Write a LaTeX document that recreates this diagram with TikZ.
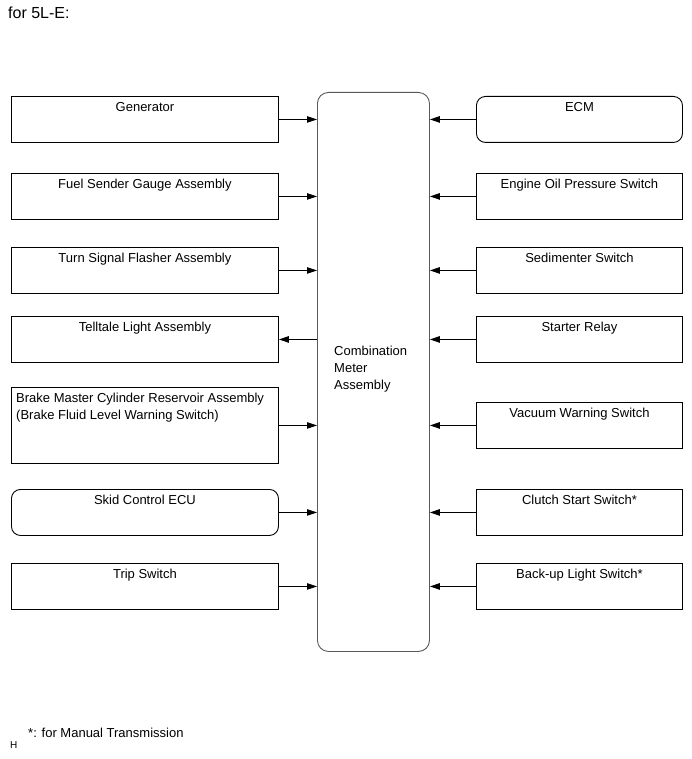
\documentclass[tikz,border=0pt]{standalone}
\usepackage{fontspec}
\setmainfont{Liberation Sans}
\usetikzlibrary{arrows.meta}
\begin{document}
\begin{tikzpicture}[x=1pt,y=-1pt,font=\fontsize{13}{17}\selectfont,
  blk/.style={draw,line width=0.9pt,anchor=north west,inner sep=0pt},
  lbox/.style={blk,minimum width=267pt,minimum height=46pt},
  rbox/.style={blk,minimum width=206pt,minimum height=46pt},
  ttl/.style={label={[anchor=base,yshift=-15.5pt,inner sep=0pt]north:#1}},
  arr/.style={line width=0.8pt,-{Triangle[length=10pt,width=6.5pt]}}]
  \useasboundingbox (0,0) rectangle (691,759);
  \node[anchor=base west,inner sep=0pt,font=\fontsize{16}{19}\selectfont] (title) at (8,19) {for 5L-E:};
  % centre
  \node[blk,draw=black!65,rounded corners=11pt,minimum width=112pt,minimum height=559pt] (cma) at (317,92) {};
  \node[anchor=north west,inner sep=0pt,align=left] (cmatxt) at (334,346) {Combination\\Meter\\Assembly};
  % left side
  \node[lbox,ttl=Generator] (gen) at (11,96) {};
  \node[lbox,ttl=Fuel Sender Gauge Assembly] (fsg) at (11,173) {};
  \node[lbox,ttl=Turn Signal Flasher Assembly] (tsf) at (11,247) {};
  \node[lbox,ttl=Telltale Light Assembly] (tla) at (11,316) {};
  \node[lbox,minimum height=76pt] (bmc) at (11,387) {};
  \node[anchor=north west,inner sep=0pt,align=left] (bmctxt) at (16,393) {Brake Master Cylinder Reservoir Assembly\\(Brake Fluid Level Warning Switch)};
  \node[lbox,rounded corners=9pt,ttl=Skid Control ECU] (skid) at (11,489) {};
  \node[lbox,ttl=Trip Switch] (trip) at (11,563) {};
  % right side
  \node[rbox,rounded corners=9pt,ttl=ECM] (ecm) at (476,96) {};
  \node[rbox,ttl=Engine Oil Pressure Switch] (eop) at (476,173) {};
  \node[rbox,ttl=Sedimenter Switch] (sed) at (476,247) {};
  \node[rbox,ttl=Starter Relay] (str) at (476,316) {};
  \node[rbox,ttl=Vacuum Warning Switch] (vac) at (476,402) {};
  \node[rbox,ttl=Clutch Start Switch*] (css) at (476,489) {};
  \node[rbox,ttl=Back-up Light Switch*] (bls) at (476,563) {};
  % arrows
  \foreach \n in {gen,fsg,tsf,bmc,skid,trip}
    \draw[arr] (\n.east) -- (\n.east -| cma.west);
  \draw[arr] (tla.east -| cma.west) -- (tla.east);
  \foreach \n in {ecm,eop,sed,str,vac,css,bls}
    \draw[arr] (\n.west) -- (\n.west -| cma.east);
  % note
  \node[anchor=base west,inner sep=0pt] (note) at (28,737) {*: for Manual Transmission};
  \node[anchor=base west,inner sep=0pt,font=\fontsize{10}{12}\selectfont] (hmark) at (10,748) {H};
\end{tikzpicture}
\end{document}
